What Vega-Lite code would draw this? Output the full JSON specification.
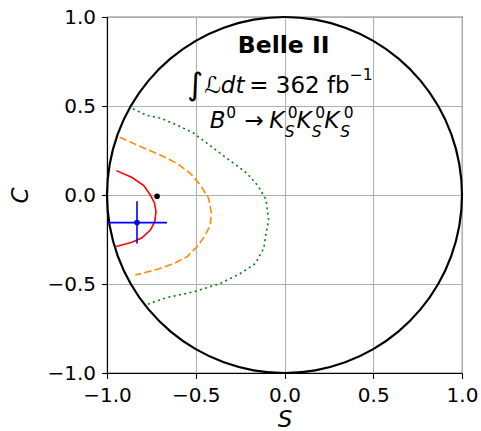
{
  "$schema": "https://vega.github.io/schema/vega-lite/v6.json",
  "width": 355,
  "height": 356,
  "autosize": "none",
  "padding": {"left": 107, "top": 17, "right": 19, "bottom": 58},
  "background": "white",
  "config": {
    "font": "DejaVu Sans",
    "view": {"stroke": "black", "strokeWidth": 1.1},
    "axis": {
      "labelFont": "DejaVu Sans",
      "labelFontSize": 20,
      "labelColor": "black",
      "labelFlush": false,
      "labelOverlap": false,
      "tickColor": "black",
      "tickSize": 5.5,
      "tickWidth": 1.1,
      "domainColor": "black",
      "domainWidth": 1.1,
      "grid": true,
      "gridColor": "#b0b0b0",
      "gridWidth": 1.1,
      "titleFont": "DejaVu Sans",
      "titleFontSize": 23,
      "titleFontStyle": "italic",
      "titleFontWeight": "normal",
      "titleColor": "black"
    }
  },
  "datasets": {
    "circle": [
      {"i": 0, "S": 1, "C": 0}, {"i": 1, "S": 0.9848, "C": 0.1736}, {"i": 2, "S": 0.9397, "C": 0.342}, {"i": 3, "S": 0.866, "C": 0.5},
      {"i": 4, "S": 0.766, "C": 0.6428}, {"i": 5, "S": 0.6428, "C": 0.766}, {"i": 6, "S": 0.5, "C": 0.866}, {"i": 7, "S": 0.342, "C": 0.9397},
      {"i": 8, "S": 0.1736, "C": 0.9848}, {"i": 9, "S": 0, "C": 1}, {"i": 10, "S": -0.1736, "C": 0.9848}, {"i": 11, "S": -0.342, "C": 0.9397},
      {"i": 12, "S": -0.5, "C": 0.866}, {"i": 13, "S": -0.6428, "C": 0.766}, {"i": 14, "S": -0.766, "C": 0.6428}, {"i": 15, "S": -0.866, "C": 0.5},
      {"i": 16, "S": -0.9397, "C": 0.342}, {"i": 17, "S": -0.9848, "C": 0.1736}, {"i": 18, "S": -1, "C": 0}, {"i": 19, "S": -0.9848, "C": -0.1736},
      {"i": 20, "S": -0.9397, "C": -0.342}, {"i": 21, "S": -0.866, "C": -0.5}, {"i": 22, "S": -0.766, "C": -0.6428}, {"i": 23, "S": -0.6428, "C": -0.766},
      {"i": 24, "S": -0.5, "C": -0.866}, {"i": 25, "S": -0.342, "C": -0.9397}, {"i": 26, "S": -0.1736, "C": -0.9848}, {"i": 27, "S": 0, "C": -1},
      {"i": 28, "S": 0.1736, "C": -0.9848}, {"i": 29, "S": 0.342, "C": -0.9397}, {"i": 30, "S": 0.5, "C": -0.866}, {"i": 31, "S": 0.6428, "C": -0.766},
      {"i": 32, "S": 0.766, "C": -0.6428}, {"i": 33, "S": 0.866, "C": -0.5}, {"i": 34, "S": 0.9397, "C": -0.342}, {"i": 35, "S": 0.9848, "C": -0.1736}
    ],
    "contours": [
      {"level": "1", "i": 0, "S": -0.947, "C": 0.137},
      {"level": "1", "i": 1, "S": -0.859, "C": 0.098},
      {"level": "1", "i": 2, "S": -0.793, "C": 0.053},
      {"level": "1", "i": 3, "S": -0.756, "C": 0.0},
      {"level": "1", "i": 4, "S": -0.733, "C": -0.043},
      {"level": "1", "i": 5, "S": -0.724, "C": -0.094},
      {"level": "1", "i": 6, "S": -0.731, "C": -0.15},
      {"level": "1", "i": 7, "S": -0.756, "C": -0.197},
      {"level": "1", "i": 8, "S": -0.803, "C": -0.24},
      {"level": "1", "i": 9, "S": -0.859, "C": -0.266},
      {"level": "1", "i": 10, "S": -0.953, "C": -0.291},
      {"level": "2", "i": 0, "S": -0.929, "C": 0.325},
      {"level": "2", "i": 1, "S": -0.812, "C": 0.272},
      {"level": "2", "i": 2, "S": -0.7, "C": 0.225},
      {"level": "2", "i": 3, "S": -0.606, "C": 0.178},
      {"level": "2", "i": 4, "S": -0.531, "C": 0.122},
      {"level": "2", "i": 5, "S": -0.474, "C": 0.056},
      {"level": "2", "i": 6, "S": -0.427, "C": -0.019},
      {"level": "2", "i": 7, "S": -0.412, "C": -0.103},
      {"level": "2", "i": 8, "S": -0.418, "C": -0.169},
      {"level": "2", "i": 9, "S": -0.452, "C": -0.235},
      {"level": "2", "i": 10, "S": -0.493, "C": -0.291},
      {"level": "2", "i": 11, "S": -0.549, "C": -0.347},
      {"level": "2", "i": 12, "S": -0.624, "C": -0.385},
      {"level": "2", "i": 13, "S": -0.718, "C": -0.418},
      {"level": "2", "i": 14, "S": -0.84, "C": -0.45},
      {"level": "3", "i": 0, "S": -0.854, "C": 0.484},
      {"level": "3", "i": 1, "S": -0.775, "C": 0.447},
      {"level": "3", "i": 2, "S": -0.7, "C": 0.432},
      {"level": "3", "i": 3, "S": -0.606, "C": 0.394},
      {"level": "3", "i": 4, "S": -0.512, "C": 0.347},
      {"level": "3", "i": 5, "S": -0.437, "C": 0.291},
      {"level": "3", "i": 6, "S": -0.362, "C": 0.235},
      {"level": "3", "i": 7, "S": -0.286, "C": 0.178},
      {"level": "3", "i": 8, "S": -0.211, "C": 0.122},
      {"level": "3", "i": 9, "S": -0.146, "C": 0.047},
      {"level": "3", "i": 10, "S": -0.104, "C": -0.028},
      {"level": "3", "i": 11, "S": -0.089, "C": -0.141},
      {"level": "3", "i": 12, "S": -0.104, "C": -0.216},
      {"level": "3", "i": 13, "S": -0.117, "C": -0.3},
      {"level": "3", "i": 14, "S": -0.164, "C": -0.385},
      {"level": "3", "i": 15, "S": -0.249, "C": -0.441},
      {"level": "3", "i": 16, "S": -0.362, "C": -0.497},
      {"level": "3", "i": 17, "S": -0.512, "C": -0.544},
      {"level": "3", "i": 18, "S": -0.662, "C": -0.576},
      {"level": "3", "i": 19, "S": -0.775, "C": -0.615}
    ],
    "measurement": [
      {"S": -0.831, "C": -0.155, "Slo": -0.995, "Shi": -0.662, "Clo": -0.272, "Chi": -0.035}
    ],
    "expectation": [
      {"S": -0.718, "C": -0.007}
    ],
    "labels": [
      {"style": "bold", "t": "Belle II", "S": -0.005, "C": 0.797},
      {"style": "integral", "t": "∫", "S": -0.55, "C": 0.563},
      {"style": "italic", "t": "ℒdt", "S": -0.452, "C": 0.572},
      {"style": "normal", "t": "=", "S": -0.198, "C": 0.572},
      {"style": "normal", "t": "362 fb", "S": -0.049, "C": 0.572},
      {"style": "sup", "t": "−1", "S": 0.367, "C": 0.647},
      {"style": "italic", "t": "B", "S": -0.421, "C": 0.3755},
      {"style": "sup", "t": "0", "S": -0.328, "C": 0.432},
      {"style": "normal", "t": "→", "S": -0.226, "C": 0.3755},
      {"style": "italic", "t": "K", "S": -0.086, "C": 0.3755},
      {"style": "sup", "t": "0", "S": 0.019, "C": 0.432},
      {"style": "sub", "t": "S", "S": 0.002, "C": 0.325},
      {"style": "italic", "t": "K", "S": 0.068, "C": 0.3755},
      {"style": "sup", "t": "0", "S": 0.173, "C": 0.432},
      {"style": "sub", "t": "S", "S": 0.153, "C": 0.325},
      {"style": "italic", "t": "K", "S": 0.224, "C": 0.3755},
      {"style": "sup", "t": "0", "S": 0.334, "C": 0.432},
      {"style": "sub", "t": "S", "S": 0.314, "C": 0.325}
    ]
  },
  "encoding": {
    "x": {"field": "S", "type": "quantitative", "scale": {"domain": [-1, 1], "nice": false, "zero": false},
          "axis": {"values": [-1, -0.5, 0, 0.5, 1], "format": ".1f", "title": "S", "labelPadding": 7, "titlePadding": 3}},
    "y": {"field": "C", "type": "quantitative", "scale": {"domain": [-1, 1], "nice": false, "zero": false},
          "axis": {"values": [-1, -0.5, 0, 0.5, 1], "format": ".1f", "title": "C", "labelPadding": 6, "titlePadding": 14}}
  },
  "layer": [
    {
      "data": {"name": "circle"},
      "mark": {"type": "line", "color": "black", "strokeWidth": 2.2, "interpolate": "cardinal-closed"},
      "encoding": {"order": {"field": "i", "type": "quantitative"}}
    },
    {
      "data": {"name": "contours"},
      "transform": [{"filter": "datum.level == '3'"}],
      "mark": {"type": "line", "color": "green", "strokeWidth": 1.6, "strokeDash": [2, 3.4]},
      "encoding": {"order": {"field": "i", "type": "quantitative"}}
    },
    {
      "data": {"name": "contours"},
      "transform": [{"filter": "datum.level == '2'"}],
      "mark": {"type": "line", "color": "darkorange", "strokeWidth": 1.6, "strokeDash": [7.5, 3.3]},
      "encoding": {"order": {"field": "i", "type": "quantitative"}}
    },
    {
      "data": {"name": "contours"},
      "transform": [{"filter": "datum.level == '1'"}],
      "mark": {"type": "line", "color": "red", "strokeWidth": 1.6},
      "encoding": {"order": {"field": "i", "type": "quantitative"}}
    },
    {
      "data": {"name": "measurement"},
      "mark": {"type": "rule", "color": "blue", "strokeWidth": 1.6},
      "encoding": {"x": {"field": "Slo", "type": "quantitative"}, "x2": {"field": "Shi"}}
    },
    {
      "data": {"name": "measurement"},
      "mark": {"type": "rule", "color": "blue", "strokeWidth": 1.6},
      "encoding": {"y": {"field": "Clo", "type": "quantitative"}, "y2": {"field": "Chi"}}
    },
    {
      "data": {"name": "measurement"},
      "mark": {"type": "point", "shape": "circle", "filled": true, "color": "blue", "size": 32, "opacity": 1}
    },
    {
      "data": {"name": "expectation"},
      "mark": {"type": "point", "shape": "circle", "filled": true, "color": "black", "size": 32, "opacity": 1}
    },
    {
      "data": {"name": "labels"},
      "transform": [{"filter": "datum.style == 'bold'"}],
      "mark": {"type": "text", "align": "center", "baseline": "alphabetic", "font": "DejaVu Sans", "fontSize": 23.5, "fontWeight": "bold", "color": "black"},
      "encoding": {"text": {"field": "t"}}
    },
    {
      "data": {"name": "labels"},
      "transform": [{"filter": "datum.style == 'integral'"}],
      "mark": {"type": "text", "align": "left", "baseline": "alphabetic", "font": "DejaVu Sans", "fontSize": 31, "color": "black"},
      "encoding": {"text": {"field": "t"}}
    },
    {
      "data": {"name": "labels"},
      "transform": [{"filter": "datum.style == 'italic'"}],
      "mark": {"type": "text", "align": "left", "baseline": "alphabetic", "font": "DejaVu Sans", "fontSize": 23, "fontStyle": "italic", "color": "black"},
      "encoding": {"text": {"field": "t"}}
    },
    {
      "data": {"name": "labels"},
      "transform": [{"filter": "datum.style == 'normal'"}],
      "mark": {"type": "text", "align": "left", "baseline": "alphabetic", "font": "DejaVu Sans", "fontSize": 23, "color": "black"},
      "encoding": {"text": {"field": "t"}}
    },
    {
      "data": {"name": "labels"},
      "transform": [{"filter": "datum.style == 'sup'"}],
      "mark": {"type": "text", "align": "left", "baseline": "alphabetic", "font": "DejaVu Sans", "fontSize": 15.5, "color": "black"},
      "encoding": {"text": {"field": "t"}}
    },
    {
      "data": {"name": "labels"},
      "transform": [{"filter": "datum.style == 'sub'"}],
      "mark": {"type": "text", "align": "left", "baseline": "alphabetic", "font": "DejaVu Sans", "fontSize": 15.5, "fontStyle": "italic", "color": "black"},
      "encoding": {"text": {"field": "t"}}
    }
  ]
}
